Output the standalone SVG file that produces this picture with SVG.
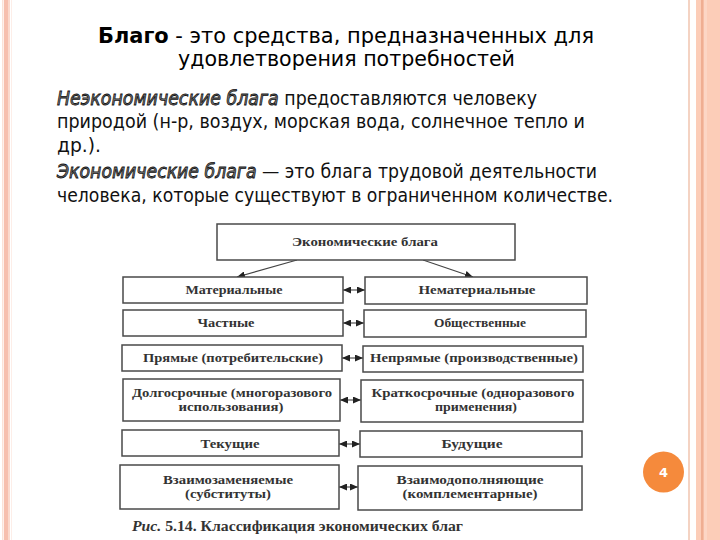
<svg xmlns="http://www.w3.org/2000/svg" width="720" height="540" viewBox="0 0 720 540">
<style>
.title{font-family:"DejaVu Sans","Liberation Sans",sans-serif;font-size:22px;fill:#000}
.para{font-family:"DejaVu Sans","Liberation Sans",sans-serif;font-size:19px;fill:#111}
.em{font-style:italic;fill:#7a7a7a;stroke:#111;stroke-width:0.8px}
.box{fill:#fff;stroke:#4a4a4a;stroke-width:1.5}
.ft{font-family:"Liberation Serif","DejaVu Serif",serif;font-size:12px;font-weight:bold;fill:#333;text-anchor:middle}
.cap{font-family:"Liberation Serif","DejaVu Serif",serif;font-size:14px;font-weight:bold;fill:#333}
.conn{stroke:#444;stroke-width:1.1;fill:none}
</style>
<defs>
<marker id="ah" viewBox="0 0 8 7" refX="8" refY="3.5" markerWidth="8" markerHeight="7" markerUnits="userSpaceOnUse" orient="auto-start-reverse">
<path d="M0,0 L8,3.5 L0,7 z" fill="#222"/>
</marker>
</defs>
<rect width="720" height="540" fill="#fff"/>
<g id="frame">
<rect x="2" y="0" width="1.5" height="540" fill="#fbe2d8"/>
<rect x="4" y="0" width="4" height="540" fill="#f6bfae"/>
<rect x="8" y="0" width="2" height="540" fill="#fbd9cd"/>
<rect x="11" y="0" width="1" height="540" fill="#fdeee8"/>
<rect x="688" y="0" width="2" height="540" fill="#f4d3c3"/>
<rect x="696" y="0" width="24" height="540" fill="#fccdb8"/>
<rect x="701" y="0" width="2.5" height="540" fill="#efae92"/>
<rect x="704" y="0" width="3" height="540" fill="#fcd6c5"/>
</g>
<g id="title">
<text class="title" x="98" y="43" textLength="496" lengthAdjust="spacingAndGlyphs"><tspan font-weight="bold">Благо</tspan> - это средства, предназначенных для</text>
<text class="title" x="178" y="66" textLength="337" lengthAdjust="spacingAndGlyphs">удовлетворения потребностей</text>
</g>
<g id="paragraph">
<text class="para" x="57" y="105" textLength="480" lengthAdjust="spacingAndGlyphs"><tspan class="em">Неэкономические блага</tspan> предоставляются человеку</text>
<text class="para" x="57" y="128" textLength="528" lengthAdjust="spacingAndGlyphs">природой (н-р, воздух, морская вода, солнечное тепло и</text>
<text class="para" x="57" y="152" textLength="44" lengthAdjust="spacingAndGlyphs">др.).</text>
<text class="para" x="57" y="178" textLength="540" lengthAdjust="spacingAndGlyphs"><tspan class="em">Экономические блага</tspan> — это блага трудовой деятельности</text>
<text class="para" x="57" y="202" textLength="556" lengthAdjust="spacingAndGlyphs">человека, которые существуют в ограниченном количестве.</text>
</g>
<g id="connectors">
<line class="conn" x1="297" y1="260" x2="237" y2="277" marker-end="url(#ah)"/>
<line class="conn" x1="423" y1="260" x2="473" y2="277" marker-end="url(#ah)"/>
<line class="conn" x1="343" y1="290" x2="365" y2="290" marker-start="url(#ah)" marker-end="url(#ah)"/>
<line class="conn" x1="343" y1="323" x2="364" y2="323" marker-start="url(#ah)" marker-end="url(#ah)"/>
<line class="conn" x1="342" y1="358" x2="363" y2="358" marker-start="url(#ah)" marker-end="url(#ah)"/>
<line class="conn" x1="340" y1="400" x2="361" y2="400" marker-start="url(#ah)" marker-end="url(#ah)"/>
<line class="conn" x1="339" y1="444" x2="360" y2="444" marker-start="url(#ah)" marker-end="url(#ah)"/>
<line class="conn" x1="339" y1="487" x2="358" y2="487" marker-start="url(#ah)" marker-end="url(#ah)"/>
</g>
<g id="n-economic">
<rect class="box" x="217" y="224" width="298" height="36"/>
<text class="ft" x="365" y="246" textLength="146" lengthAdjust="spacingAndGlyphs">Экономические блага</text>
</g>
<g id="n-material">
<rect class="box" x="123" y="277" width="220" height="26"/>
<text class="ft" x="234" y="294" textLength="97" lengthAdjust="spacingAndGlyphs">Материальные</text>
</g>
<g id="n-nonmaterial">
<rect class="box" x="365" y="277" width="222" height="27"/>
<text class="ft" x="477" y="294" textLength="117" lengthAdjust="spacingAndGlyphs">Нематериальные</text>
</g>
<g id="n-private">
<rect class="box" x="123" y="310" width="220" height="26"/>
<text class="ft" x="226" y="327" textLength="57" lengthAdjust="spacingAndGlyphs">Частные</text>
</g>
<g id="n-public">
<rect class="box" x="364" y="310" width="222" height="27"/>
<text class="ft" x="480" y="327" textLength="92" lengthAdjust="spacingAndGlyphs">Общественные</text>
</g>
<g id="n-direct">
<rect class="box" x="122" y="345" width="220" height="26"/>
<text class="ft" x="233" y="362" textLength="180" lengthAdjust="spacingAndGlyphs">Прямые (потребительские)</text>
</g>
<g id="n-indirect">
<rect class="box" x="363" y="346" width="220" height="26"/>
<text class="ft" x="474" y="362" textLength="208" lengthAdjust="spacingAndGlyphs">Непрямые (производственные)</text>
</g>
<g id="n-long">
<rect class="box" x="123" y="379" width="217" height="42"/>
<text class="ft" x="232" y="397" textLength="200" lengthAdjust="spacingAndGlyphs">Долгосрочные (многоразового</text>
<text class="ft" x="231" y="411" textLength="105" lengthAdjust="spacingAndGlyphs">использования)</text>
</g>
<g id="n-short">
<rect class="box" x="361" y="380" width="222" height="42"/>
<text class="ft" x="473" y="397" textLength="203" lengthAdjust="spacingAndGlyphs">Краткосрочные (одноразового</text>
<text class="ft" x="476" y="411" textLength="82" lengthAdjust="spacingAndGlyphs">применения)</text>
</g>
<g id="n-current">
<rect class="box" x="122" y="430" width="217" height="26"/>
<text class="ft" x="230" y="448" textLength="59" lengthAdjust="spacingAndGlyphs">Текущие</text>
</g>
<g id="n-future">
<rect class="box" x="360" y="431" width="222" height="26"/>
<text class="ft" x="472" y="448" textLength="61" lengthAdjust="spacingAndGlyphs">Будущие</text>
</g>
<g id="n-substitutes">
<rect class="box" x="120" y="465" width="219" height="44"/>
<text class="ft" x="228" y="484" textLength="130" lengthAdjust="spacingAndGlyphs">Взаимозаменяемые</text>
<text class="ft" x="228" y="498" textLength="86" lengthAdjust="spacingAndGlyphs">(субституты)</text>
</g>
<g id="n-complements">
<rect class="box" x="358" y="466" width="224" height="44"/>
<text class="ft" x="470" y="484" textLength="147" lengthAdjust="spacingAndGlyphs">Взаимодополняющие</text>
<text class="ft" x="470" y="498" textLength="135" lengthAdjust="spacingAndGlyphs">(комплементарные)</text>
</g>
<g id="caption">
<text class="cap" x="132" y="531" textLength="331" lengthAdjust="spacingAndGlyphs"><tspan font-style="italic">Рис.</tspan> 5.14. Классификация экономических благ</text>
</g>
<g id="page-number">
<circle cx="663.5" cy="472" r="20.5" fill="#f58a3c"/>
<text x="663.5" y="477" text-anchor="middle" font-family="'DejaVu Sans','Liberation Sans',sans-serif" font-size="13" font-weight="bold" fill="#fff">4</text>
</g>
</svg>
